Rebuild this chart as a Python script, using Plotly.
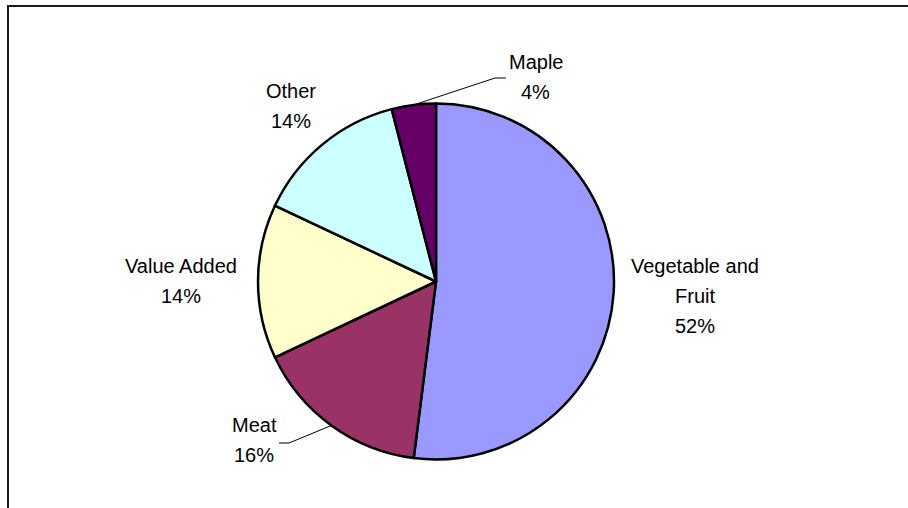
import math
import plotly.graph_objects as go

# Share of sales by product category
categories = ["Vegetable and Fruit", "Meat", "Value Added", "Other", "Maple"]
values = [52, 16, 14, 14, 4]
label_lines = [["Vegetable and", "Fruit"], ["Meat"], ["Value Added"], ["Other"], ["Maple"]]
colors = ["#9999FF", "#993366", "#FFFFCC", "#CCFFFF", "#660066"]

W, H = 908, 508
FONT = "Liberation Sans, Arial, sans-serif"
FONT_SIZE = 20
LINE_STEP = 30

# pie geometry in pixels
CX, CY, R = 436, 281.5, 178

# label block centres (pixels)
label_pos = {
    "Vegetable and Fruit": (695, 296),
    "Meat": (254, 440),
    "Value Added": (181, 280.5),
    "Other": (291, 105.5),
    "Maple": (535.5, 77),
}
# leader lines for labels moved away from their slices
leaders = {
    "Maple": {"end": (506, 78), "elbow": (495, 78)},
    "Meat": {"end": (279, 443), "elbow": (289, 443)},
}


def px(x, y):
    return x / W, 1 - y / H


fig = go.Figure(
    go.Pie(
        labels=categories,
        values=values,
        sort=False,
        direction="clockwise",
        rotation=0,
        marker=dict(colors=colors, line=dict(color="#000000", width=2.5)),
        textinfo="none",
        hoverinfo="label+percent",
        showlegend=False,
        domain=dict(
            x=[(CX - R) / W, (CX + R) / W],
            y=[(H - CY - R) / H, (H - CY + R) / H],
        ),
    )
)

total = sum(values)
annotations = []
shapes = []
cum = 0
for cat, v, lines in zip(categories, values, label_lines):
    mid = (cum + v / 2) / total * 360
    cum += v
    pct = f"{round(v / total * 100)}%"
    all_lines = lines + [pct]
    bx, by = label_pos[cat]
    n = len(all_lines)
    for i, t in enumerate(all_lines):
        ly = by + (i - (n - 1) / 2) * LINE_STEP
        x, y = px(bx, ly)
        annotations.append(dict(
            x=x, y=y, xref="paper", yref="paper", text=t, showarrow=False,
            xanchor="center", yanchor="middle",
            font=dict(family=FONT, size=FONT_SIZE, color="#000000"),
        ))
    if cat in leaders:
        sx = CX + R * math.sin(math.radians(mid))
        sy = CY - R * math.cos(math.radians(mid))
        ex, ey = leaders[cat]["elbow"]
        tx, ty = leaders[cat]["end"]
        p0, p1, p2 = px(sx, sy), px(ex, ey), px(tx, ty)
        shapes.append(dict(
            type="path", xref="paper", yref="paper",
            path=f"M {p0[0]},{p0[1]} L {p1[0]},{p1[1]} L {p2[0]},{p2[1]}",
            line=dict(color="#000000", width=1),
        ))

# chart area frame
fx0, fy0 = px(8, 6)
shapes.append(dict(
    type="rect", xref="paper", yref="paper",
    x0=fx0, y0=-0.1, x1=1.1, y1=fy0,
    line=dict(color="#1a1a1a", width=2), fillcolor="rgba(0,0,0,0)",
))

fig.update_layout(
    width=W, height=H,
    margin=dict(l=0, r=0, t=0, b=0),
    paper_bgcolor="#FFFFFF",
    plot_bgcolor="#FFFFFF",
    annotations=annotations,
    shapes=shapes,
)

fig.write_html("out.html")
